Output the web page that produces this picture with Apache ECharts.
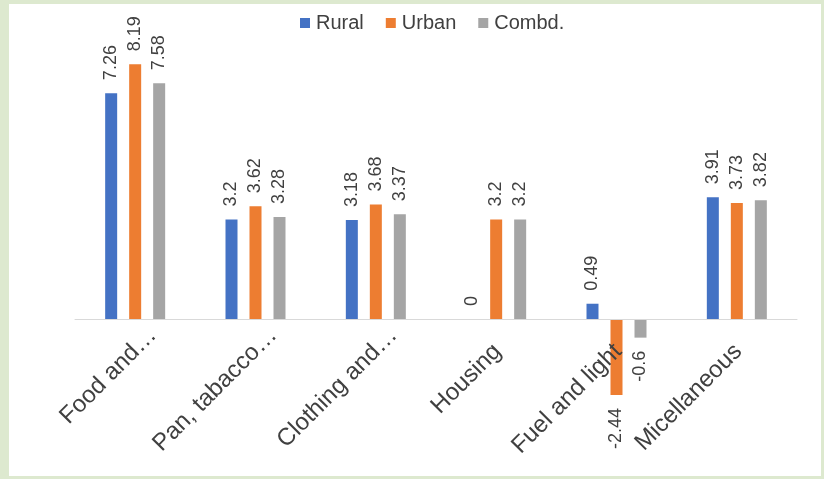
<!DOCTYPE html>
<html>
<head>
<meta charset="utf-8">
<script src="https://cdn.jsdelivr.net/npm/echarts@6/dist/echarts.min.js"></script>
<style>
  html, body { margin: 0; padding: 0; }
  body { width: 824px; height: 479px; background: #dde9cf; position: relative; overflow: hidden; }
  #chart { position: absolute; left: 9px; top: 4px; width: 812px; height: 472px; background: #ffffff; }
</style>
</head>
<body>
<div id="chart"></div>
<script>
// Expenditure groups and the change recorded for each sector
const categories = ['Food and…', 'Pan, tabacco…', 'Clothing and…', 'Housing', 'Fuel and light', 'Micellaneous'];
const rural = [7.26, 3.2, 3.18, 0, 0.49, 3.91];
const urban = [8.19, 3.62, 3.68, 3.2, -2.44, 3.73];
const combined = [7.58, 3.28, 3.37, 3.2, -0.6, 3.82];
const seriesNames = ['Rural', 'Urban', 'Combd.'];
const colors = ['#4472c4', '#ed7d31', '#a5a5a5'];

const FONT = '"Liberation Sans", Arial, sans-serif';
const TEXT = '#404040';

// Shortened (ellipsised) names sit a little further along their slant
const categoryData = categories.map(name => ({
  value: name,
  textStyle: name.endsWith('…') ? { padding: [0, -25, 18, 0] } : { padding: [0, -2, 0, 0] }
}));

// Positive values are labelled above the bar, negative ones below it
function withLabels(values) {
  return values.map(v => v < 0
    ? { value: v, label: { position: 'bottom', align: 'right' } }
    : { value: v });
}

const chart = echarts.init(document.getElementById('chart'), null, { renderer: 'canvas' });

chart.setOption({
  animation: false,
  color: colors,
  textStyle: { fontFamily: FONT, color: TEXT },
  legend: {
    data: seriesNames,
    left: 286,
    top: 4,
    itemWidth: 10,
    itemHeight: 10,
    itemGap: 22,
    icon: 'rect',
    textStyle: { fontFamily: FONT, fontSize: 20, color: TEXT, padding: [0, 0, 0, 1] }
  },
  grid: {
    left: 66,
    right: 24,
    top: 35,
    bottom: 63.7,
    outerBoundsMode: 'none',
    containLabel: false
  },
  xAxis: {
    type: 'category',
    data: categoryData,
    z: 3,
    axisLine: { show: true, onZero: true, lineStyle: { color: '#d9d9d9', width: 1 } },
    axisTick: { show: false },
    axisLabel: {
      interval: 0,
      rotate: 45,
      // labels hang from the zero line, which lies above the grid's lower edge
      margin: -63,
      fontFamily: FONT,
      fontSize: 24,
      color: TEXT
    }
  },
  yAxis: {
    type: 'value',
    min: -3,
    max: 9,
    show: false,
    splitLine: { show: false }
  },
  series: [rural, urban, combined].map((values, i) => ({
    name: seriesNames[i],
    type: 'bar',
    data: withLabels(values),
    barWidth: 12,
    barGap: '100%',
    label: {
      show: true,
      position: 'top',
      rotate: 90,
      align: 'left',
      verticalAlign: 'middle',
      distance: 13,
      fontFamily: FONT,
      fontSize: 18,
      color: TEXT
    }
  }))
});
</script>
</body>
</html>
